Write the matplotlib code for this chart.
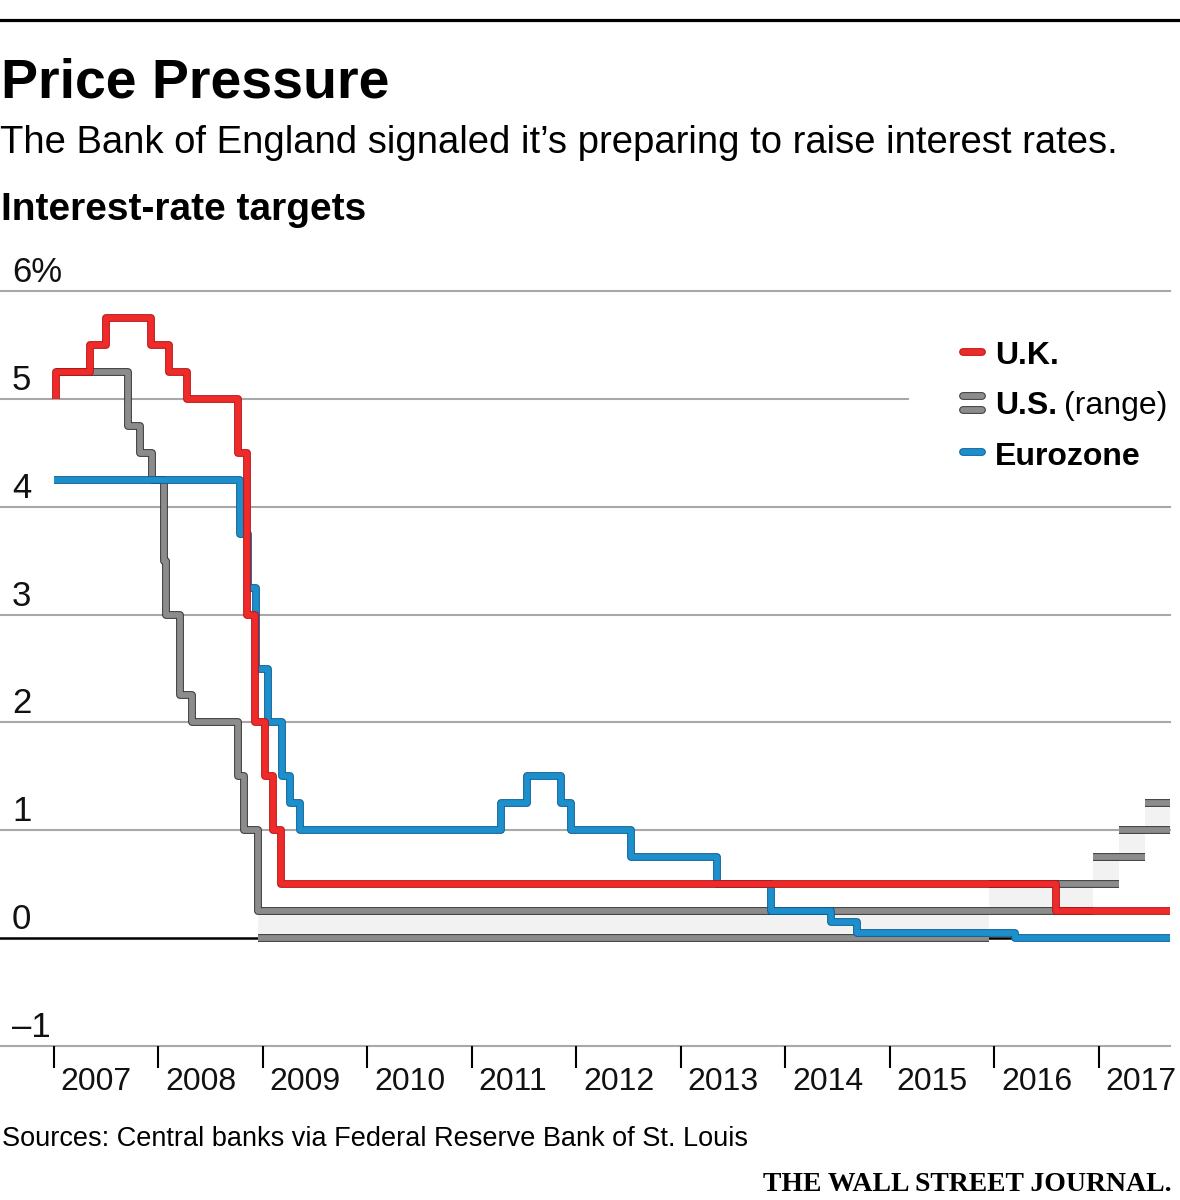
import pandas as pd
import matplotlib
matplotlib.use("Agg")
import matplotlib.pyplot as plt
import matplotlib.patheffects as pe
from matplotlib import font_manager
from matplotlib.lines import Line2D
from matplotlib.transforms import ScaledTranslation

# policy rate changes (date the new rate took effect)
uk_dates = ["2007-01-10", "2007-01-11", "2007-05-10", "2007-07-05", "2007-12-06",
            "2008-02-07", "2008-04-10", "2008-10-08", "2008-11-06", "2008-12-04",
            "2009-01-08", "2009-02-05", "2009-03-05", "2016-08-04"]
uk_rates = [5.00, 5.25, 5.50, 5.75, 5.50, 5.25, 5.00, 4.50, 3.00, 2.00,
            1.50, 1.00, 0.50, 0.25]

us_dates = ["2007-01-11", "2007-09-18", "2007-10-31", "2007-12-11", "2008-01-22",
            "2008-01-30", "2008-03-18", "2008-04-30", "2008-10-08", "2008-10-29",
            "2008-12-16"]
us_rates = [5.25, 4.75, 4.50, 4.25, 3.50, 3.00, 2.25, 2.00, 1.50, 1.00, 0.25]

us_range_start = ["2008-12-16", "2015-12-16", "2016-12-14", "2017-03-15", "2017-06-14"]
us_range_low = [0.00, 0.25, 0.50, 0.75, 1.00]
us_range_high = [0.25, 0.50, 0.75, 1.00, 1.25]

ez_dates = ["2007-01-01", "2008-10-15", "2008-11-12", "2008-12-10", "2009-01-21",
            "2009-03-11", "2009-04-08", "2009-05-13", "2011-04-13", "2011-07-13",
            "2011-11-09", "2011-12-14", "2012-07-11", "2013-05-08", "2013-11-13",
            "2014-06-11", "2014-09-10", "2016-03-16"]
ez_rates = [4.25, 3.75, 3.25, 2.50, 2.00, 1.50, 1.25, 1.00, 1.25, 1.50,
            1.25, 1.00, 0.75, 0.50, 0.25, 0.15, 0.05, 0.00]

end_date = "2017-09-08"
years = list(range(2007, 2018))
y_ticks = [-1, 0, 1, 2, 3, 4, 5, 6]
y_labels = ["\u20131", "0", "1", "2", "3", "4", "5", "6%"]

RED, RED_EDGE = "#ee2a2a", "#b81414"
GRAY, GRAY_EDGE = "#8c8c8c", "#333333"
BLUE, BLUE_EDGE = "#1d8fcc", "#0b5f95"

names = {f.name for f in font_manager.fontManager.ttflist}
SANS = "Liberation Sans" if "Liberation Sans" in names else "DejaVu Sans"
SERIF = "Liberation Serif" if "Liberation Serif" in names else "DejaVu Serif"
plt.rcParams["font.family"] = SANS


def dec_year(dates):
    d = pd.to_datetime(pd.Series(dates))
    days = 365 + d.dt.is_leap_year.astype(int)
    return (d.dt.year + (d.dt.dayofyear - 1) / days).to_numpy()


def outline(edge, lw):
    return [pe.Stroke(linewidth=lw + 1.4, foreground=edge), pe.Normal()]


W, H = 1180, 1200
fig = plt.figure(figsize=(W / 100, H / 100), dpi=100)
ax_top, ax_bot = 250, 1046
ax = fig.add_axes([0, 1 - ax_bot / H, 1170 / W, (ax_bot - ax_top) / H])

px_per_unit = (ax_bot - 291) / 7
ax.set_ylim(-1, 6 + (291 - ax_top) / px_per_unit)
x0 = 2007 - 53.5 / 104.5
ax.set_xlim(x0, x0 + 1170 / 104.5)

for s in ax.spines.values():
    s.set_visible(False)
ax.set_yticks([])

# gridlines
for v in y_ticks:
    if v == 0:
        continue
    ax.axhline(v, xmin=0, xmax=(908 / 1170 if v == 5 else 1), color="#a8a8a8",
               lw=1.5, zorder=1, clip_on=False)
ax.axhline(0, color="black", lw=1.8, zorder=2)

# y labels above gridlines
for v, lab in zip(y_ticks, y_labels):
    ax.annotate(lab, xy=(0, v), xycoords=("axes fraction", "data"),
                xytext=(8.6, 6.5), textcoords="offset points",
                ha="left", va="baseline", fontsize=25, color="#111111")

LW = 4.2

# U.S. range
rx = list(dec_year(us_range_start + [end_date]))
for i in range(len(us_range_start)):
    xa, xb = rx[i], rx[i + 1]
    ax.fill_between([xa, xb], us_range_low[i], us_range_high[i],
                    color="#f2f2f2", lw=0, zorder=2)
    ax.plot([xa, xb], [us_range_low[i]] * 2, color=GRAY, lw=LW,
            solid_capstyle="butt", zorder=3, path_effects=outline(GRAY_EDGE, LW))
    if i > 0:
        ax.plot([xa, xb], [us_range_high[i]] * 2, color=GRAY, lw=LW,
                solid_capstyle="butt", zorder=3, path_effects=outline(GRAY_EDGE, LW))

# U.S. single target, then upper end of the 0-0.25 range
ux = dec_year(us_dates + [us_range_start[1]])
ax.step(ux, us_rates + [us_rates[-1]], where="post", color=GRAY, lw=LW,
        solid_joinstyle="round", solid_capstyle="butt", zorder=3,
        path_effects=outline(GRAY_EDGE, LW))

# Eurozone
ex = dec_year(ez_dates + [end_date])
ax.step(ex, ez_rates + [ez_rates[-1]], where="post", color=BLUE, lw=LW,
        solid_joinstyle="round", solid_capstyle="butt", zorder=4,
        path_effects=outline(BLUE_EDGE, LW))

# U.K.
kx = dec_year(uk_dates + [end_date])
ax.step(kx, uk_rates + [uk_rates[-1]], where="post", color=RED, lw=LW,
        solid_joinstyle="round", solid_capstyle="butt", zorder=5,
        path_effects=outline(RED_EDGE, LW))

# x axis ticks and labels
ax.set_xticks(years)
ax.set_xticklabels([str(y) for y in years])
ax.tick_params(axis="x", length=16, width=1.5, color="black", direction="out",
               pad=-1, labelsize=23, labelcolor="#111111")
shift = ScaledTranslation(7 / 100, 0, fig.dpi_scale_trans)
for lab in ax.get_xticklabels():
    lab.set_horizontalalignment("left")
    lab.set_transform(lab.get_transform() + shift)


def fy(py):
    return 1 - py / H


# header
fig.add_artist(Line2D([0, 1], [fy(20)] * 2, color="black", lw=2.3))
fig.text(1 / W, fy(97), "Price Pressure", fontsize=40, fontweight="bold",
         va="baseline", ha="left")
fig.text(0, fy(153), "The Bank of England signaled it\u2019s preparing to raise interest rates.",
         fontsize=27.5, va="baseline", ha="left")
fig.text(1 / W, fy(220), "Interest-rate targets", fontsize=28, fontweight="bold",
         va="baseline", ha="left")

# legend
def swatch(py, color, edge):
    fig.add_artist(Line2D([963 / W, 982 / W], [fy(py)] * 2, color=color, lw=LW,
                          solid_capstyle="round", path_effects=outline(edge, LW)))


swatch(352, RED, RED_EDGE)
swatch(396, GRAY, GRAY_EDGE)
swatch(410, GRAY, GRAY_EDGE)
swatch(452, BLUE, BLUE_EDGE)
fig.text(995 / W, fy(364), "U.K.", fontsize=23, fontweight="bold", va="baseline")
t_us = fig.text(995 / W, fy(414), "U.S.", fontsize=23, fontweight="bold", va="baseline")
fig.text(995 / W, fy(465), "Eurozone", fontsize=23, fontweight="bold", va="baseline")
fig.canvas.draw()
bb = t_us.get_window_extent(fig.canvas.get_renderer())
fig.text((bb.x1 + 7) / W, fy(414), "(range)", fontsize=23, va="baseline")

# footer
fig.text(2 / W, fy(1146), "Sources: Central banks via Federal Reserve Bank of St. Louis",
         fontsize=19.5, va="baseline", ha="left")
fig.text(1172 / W, fy(1191), "THE WALL STREET JOURNAL.", fontsize=20,
         fontweight="bold", family=SERIF, va="baseline", ha="right")

fig.savefig("out.png", dpi=100)
